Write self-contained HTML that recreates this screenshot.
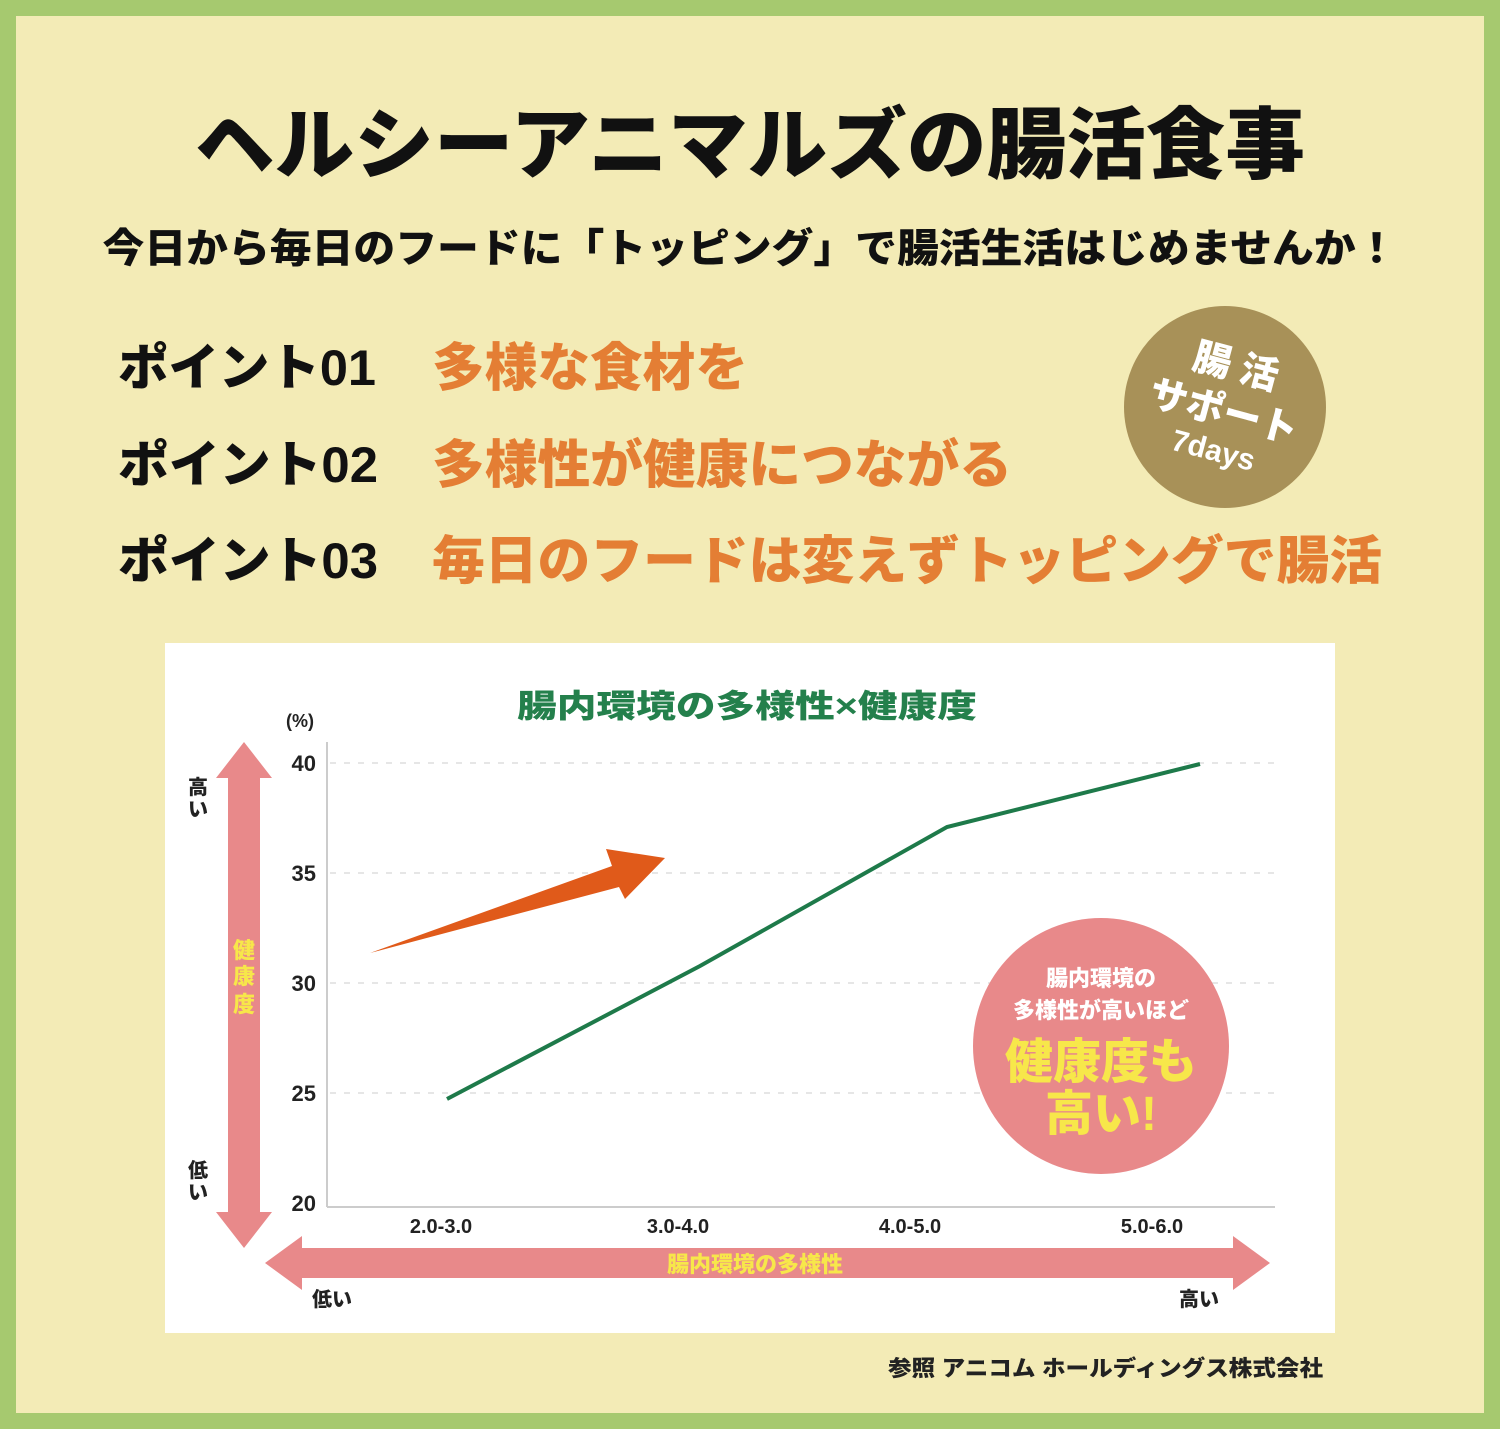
<!DOCTYPE html>
<html><head><meta charset="utf-8"><style>
body{margin:0;width:1500px;height:1429px;overflow:hidden;font-family:"Liberation Sans","Noto Sans CJK JP",sans-serif;}
</style></head><body>
<svg width="1500" height="1429" xmlns="http://www.w3.org/2000/svg" style="display:block;font-family:'Liberation Sans','Noto Sans CJK JP',sans-serif;font-weight:900">
<rect width="1500" height="1429" fill="#a6c96f"/>
<rect x="16" y="16" width="1468" height="1397" fill="#f3ebb6"/>
<text x="750" y="172" font-size="78" text-anchor="middle" fill="#111" textLength="1110" lengthAdjust="spacingAndGlyphs">ヘルシーアニマルズの腸活食事</text>
<text x="750" y="262" font-size="40" text-anchor="middle" fill="#111" textLength="1295" lengthAdjust="spacingAndGlyphs">今日から毎日のフードに「トッピング」で腸活生活はじめませんか！</text>
<g font-size="50" fill="#111">
<text x="118" y="385" textLength="258" lengthAdjust="spacingAndGlyphs">ポイント01</text>
<text x="118" y="482" textLength="260" lengthAdjust="spacingAndGlyphs">ポイント02</text>
<text x="118" y="578" textLength="260" lengthAdjust="spacingAndGlyphs">ポイント03</text>
</g>
<g font-size="52" fill="#e47e34">
<text x="432" y="386" textLength="316" lengthAdjust="spacingAndGlyphs">多様な食材を</text>
<text x="432" y="483" textLength="580" lengthAdjust="spacingAndGlyphs">多様性が健康につながる</text>
<text x="432" y="579" textLength="950" lengthAdjust="spacingAndGlyphs">毎日のフードは変えずトッピングで腸活</text>
</g>
<circle cx="1225" cy="407" r="101" fill="#a89158"/>
<g fill="#fff" transform="rotate(15 1225 407)" text-anchor="middle">
<text x="1225" y="378" font-size="38">腸 活</text>
<text x="1225" y="425" font-size="38">サポート</text>
<text x="1225" y="462" font-size="30">7days</text>
</g>
<rect x="165" y="643" width="1170" height="690" fill="#fff"/>
<text x="747" y="717" font-size="32" fill="#24804c" text-anchor="middle" textLength="460" lengthAdjust="spacingAndGlyphs">腸内環境の多様性×健康度</text>
<text x="300" y="727" font-size="18" fill="#222" text-anchor="middle">(%)</text>
<line x1="327" y1="742" x2="327" y2="1207" stroke="#ccc" stroke-width="2"/>
<line x1="327" y1="1207" x2="1275" y2="1207" stroke="#ccc" stroke-width="2"/>
<g stroke="#ddd" stroke-width="1.5" stroke-dasharray="6 8">
<line x1="330" y1="763" x2="1275" y2="763"/><line x1="330" y1="873" x2="1275" y2="873"/>
<line x1="330" y1="983" x2="1275" y2="983"/><line x1="330" y1="1093" x2="1275" y2="1093"/>
</g>
<g font-size="22" fill="#222" text-anchor="end">
<text x="316" y="771">40</text><text x="316" y="881">35</text><text x="316" y="991">30</text><text x="316" y="1101">25</text><text x="316" y="1211">20</text>
</g>
<g font-size="20" fill="#222" text-anchor="middle">
<text x="441" y="1233">2.0-3.0</text><text x="678" y="1233">3.0-4.0</text><text x="910" y="1233">4.0-5.0</text><text x="1152" y="1233">5.0-6.0</text>
</g>
<polyline points="447,1099 700,966 947,827 1200,764" fill="none" stroke="#1e7a4a" stroke-width="4"/>
<polygon points="370,953 612,866 606,849 665,858 625,899 619,887" fill="#e05a1a"/>
<polygon points="244,742 272,778 260,778 260,1212 272,1212 244,1248 216,1212 228,1212 228,778 216,778" fill="#e8898a"/>
<g font-size="22" fill="#f7e74a" text-anchor="middle"><text x="244" y="958">健</text><text x="244" y="984">康</text><text x="244" y="1012">度</text></g>
<g font-size="20" fill="#222" text-anchor="middle"><text x="198" y="794">高</text><text x="198" y="816">い</text><text x="198" y="1177">低</text><text x="198" y="1199">い</text></g>
<polygon points="265,1263 302,1236 302,1248 1233,1248 1233,1236 1270,1263 1233,1290 1233,1278 302,1278 302,1290" fill="#e8898a"/>
<text x="755" y="1272" font-size="22" fill="#f7e74a" text-anchor="middle">腸内環境の多様性</text>
<text x="332" y="1306" font-size="20" fill="#222" text-anchor="middle">低い</text>
<text x="1199" y="1306" font-size="20" fill="#222" text-anchor="middle">高い</text>
<circle cx="1101" cy="1046" r="128" fill="#e8898a"/>
<g text-anchor="middle">
<text x="1101" y="986" font-size="22" fill="#fff">腸内環境の</text>
<text x="1101" y="1018" font-size="22" fill="#fff">多様性が高いほど</text>
<text x="1101" y="1078" font-size="48" fill="#f7e74a">健康度も</text>
<text x="1101" y="1130" font-size="48" fill="#f7e74a">高い!</text>
</g>
<text x="1323" y="1376" font-size="22" fill="#222" text-anchor="end" textLength="435" lengthAdjust="spacingAndGlyphs">参照 アニコム ホールディングス株式会社</text>
</svg>
</body></html>
